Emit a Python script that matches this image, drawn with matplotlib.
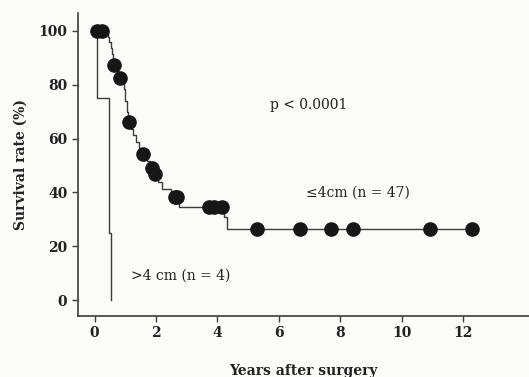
import numpy as np
import matplotlib.pyplot as plt

# <=4 cm group (n = 47): step curve (time, survival after the drop)
small_t = [0.0, 0.42, 0.47, 0.52, 0.56, 0.60, 0.62, 0.74, 0.80, 0.90, 0.95,
           1.00, 1.05, 1.10, 1.20, 1.26, 1.35, 1.44, 1.50, 1.70, 1.80, 1.93,
           2.05, 2.20, 2.50, 2.74, 4.20, 4.30, 12.28]
small_s = [100, 97.9, 95.7, 93.6, 91.5, 89.4, 87.2, 85.0, 82.6, 80.5, 78.3,
           74.0, 70.0, 66.0, 63.6, 61.2, 58.8, 56.4, 54.2, 51.6, 49.0, 46.8,
           44.0, 41.3, 38.4, 34.7, 30.8, 26.4, 26.4]

# censored marks on the <=4 cm curve
cens_t = [0.09, 0.25, 0.63, 0.82, 1.12, 1.57, 1.88, 1.96, 2.63, 2.69,
          3.72, 3.88, 4.15, 5.29, 6.70, 7.71, 8.43, 10.93, 12.28]
cens_s = [100, 100, 87.2, 82.6, 66.0, 54.2, 49.0, 46.8, 38.4, 38.4,
          34.7, 34.7, 34.7, 26.4, 26.4, 26.4, 26.4, 26.4, 26.4]

# >4 cm group (n = 4)
large_t = [0.0, 0.09, 0.47, 0.52, 0.52]
large_s = [100, 75, 25, 0, 0]

plt.rcParams['font.family'] = ['DejaVu Serif']

fig = plt.figure(figsize=(5.29, 3.77), dpi=100)
fig.patch.set_facecolor('#fbfbf9')
ax = fig.add_axes([0.147, 0.162, 0.853, 0.804])
ax.set_facecolor('#fbfbf9')

lc = '#3a3d3c'
ax.step(small_t, small_s, where='post', color=lc, lw=1.0)
ax.step(large_t, large_s, where='post', color=lc, lw=1.0)
ax.plot(cens_t, cens_s, 'o', color='#161616', ms=9.5, zorder=3)

ax.set_xlim(-0.55, 14.15)
ax.set_ylim(-5.9, 106.7)
ax.set_xticks([0, 2, 4, 6, 8, 10, 12])
ax.set_yticks([0, 20, 40, 60, 80, 100])

for s in ['top', 'right']:
    ax.spines[s].set_visible(False)
for s in ['left', 'bottom']:
    ax.spines[s].set_color(lc)
    ax.spines[s].set_linewidth(1.2)
ax.tick_params(colors=lc, length=4, width=1, labelsize=10, labelcolor='#222222')
for lab in ax.get_xticklabels() + ax.get_yticklabels():
    lab.set_fontweight('bold')

ax.set_ylabel('Survival rate (%)', fontsize=10, color='#222222', fontweight='bold',
              labelpad=8)
ax.set_xlabel('Years after surgery', fontsize=10, color='#222222', fontweight='bold',
              labelpad=17)

ax.text(5.7, 71, 'p < 0.0001', fontsize=10, color='#222222')
ax.text(6.9, 38.5, '≤4cm (n = 47)', fontsize=10, color='#222222')
ax.text(1.2, 7.5, '>4 cm (n = 4)', fontsize=10, color='#222222')

fig.savefig('out.png', dpi=100, facecolor=fig.get_facecolor())
